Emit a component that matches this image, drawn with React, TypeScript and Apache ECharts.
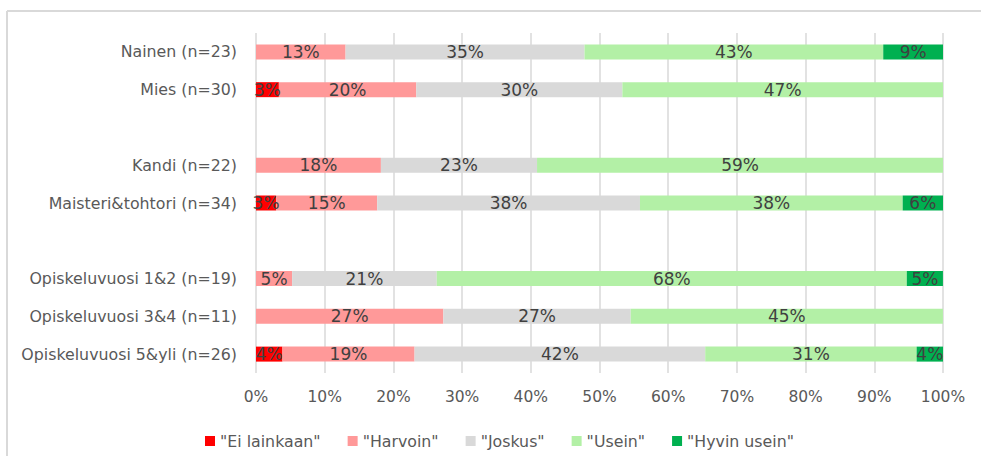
import React, { useEffect, useRef } from "react";
import * as echarts from "echarts";

const categories = [
  "Nainen (n=23)",
  "Mies (n=30)",
  "",
  "Kandi (n=22)",
  "Maisteri&tohtori (n=34)",
  "",
  "Opiskeluvuosi 1&2 (n=19)",
  "Opiskeluvuosi 3&4 (n=11)",
  "Opiskeluvuosi 5&yli (n=26)",
];

const seriesNames = ['"Ei lainkaan"', '"Harvoin"', '"Joskus"', '"Usein"', '"Hyvin usein"'];
const seriesColors = ["#ff0000", "#ff9999", "#d9d9d9", "#b3f0a6", "#00b050"];

const eiLainkaan = [0, 3.33, null, 0, 2.94, null, 0, 0, 3.85];
const harvoin = [13.04, 20.0, null, 18.18, 14.71, null, 5.26, 27.27, 19.23];
const joskus = [34.78, 30.0, null, 22.73, 38.24, null, 21.05, 27.27, 42.31];
const usein = [43.48, 46.67, null, 59.09, 38.24, null, 68.42, 45.45, 30.77];
const hyvinUsein = [8.7, 0, null, 0, 5.88, null, 5.26, 0, 3.85];

const xTicks = [0, 10, 20, 30, 40, 50, 60, 70, 80, 90, 100];

const FONT = "DejaVu Sans";

export default function App() {
  const ref = useRef<HTMLDivElement>(null);
  useEffect(() => {
    if (!ref.current) return;
    const chart = echarts.init(ref.current, undefined, { renderer: "svg" });
    const allData = [eiLainkaan, harvoin, joskus, usein, hyvinUsein];
    chart.setOption({
      animation: false,
      backgroundColor: "#ffffff",
      graphic: [
        { type: "line", shape: { x1: 7, y1: 11, x2: 981, y2: 11 }, style: { stroke: "#d9d9d9", lineWidth: 2 } },
        { type: "line", shape: { x1: 7, y1: 11, x2: 7, y2: 456 }, style: { stroke: "#d9d9d9", lineWidth: 2 } },
      ],
      grid: { left: 256, right: 38, top: 33, bottom: 83, containLabel: false },
      legend: {
        data: seriesNames,
        left: 200,
        top: 428,
        itemWidth: 10,
        itemHeight: 10,
        itemGap: 27,
        icon: "rect",
        textStyle: { color: "#595959", fontSize: 15.8, fontFamily: FONT },
      },
      xAxis: {
        type: "value",
        min: xTicks[0],
        max: xTicks[xTicks.length - 1],
        interval: 10,
        axisLine: { show: false },
        axisTick: { show: false },
        splitLine: { show: true, lineStyle: { color: "#d9d9d9", width: 1.5 } },
        axisLabel: {
          formatter: "{value}%",
          color: "#595959",
          fontSize: 15.5,
          fontFamily: FONT,
          margin: 16,
        },
      },
      yAxis: {
        type: "category",
        data: categories,
        inverse: true,
        axisLine: { show: false },
        axisTick: { show: false },
        axisLabel: { color: "#595959", fontSize: 15.8, fontFamily: FONT, margin: 19 },
      },
      series: seriesNames.map((name, i) => ({
        name,
        type: "bar",
        stack: "total",
        barWidth: 15,
        data: allData[i],
        itemStyle: { color: seriesColors[i] },
        label: {
          show: true,
          position: "inside",
          color: "#404040",
          fontSize: 17,
          fontFamily: FONT,
          formatter: (p: any) => (p.value ? Math.round(p.value) + "%" : ""),
        },
      })),
    });
    return () => chart.dispose();
  }, []);
  return <div ref={ref} style={{ position: "absolute", left: 0, top: 0, width: 981, height: 456 }} />;
}
